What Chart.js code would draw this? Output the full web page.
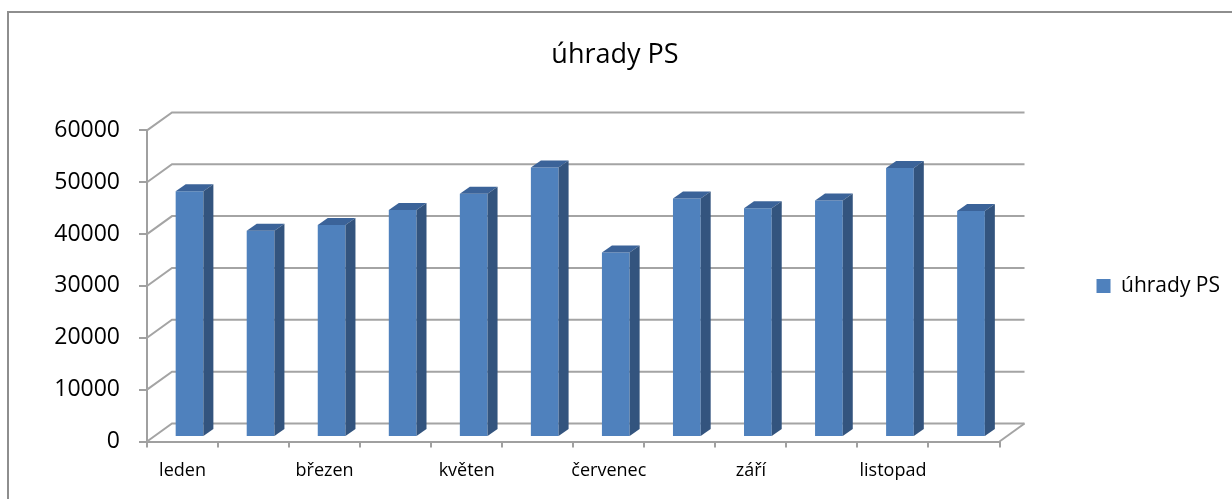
<!DOCTYPE html>
<html>
<head>
<meta charset="utf-8">
<script src="https://cdn.jsdelivr.net/npm/chart.js"></script>
<style>
  body { margin: 0; background: #fff; }
  canvas { display: block; }
</style>
</head>
<body>
<canvas id="chart" width="1232" height="499"></canvas>
<script>
const months = ['leden', 'únor', 'březen', 'duben', 'květen', 'červen',
                'červenec', 'srpen', 'září', 'říjen', 'listopad', 'prosinec'];
const payments = [47400, 39800, 40900, 43800, 46900, 52000,
                  35600, 46000, 44100, 45600, 51900, 43600];
const yTicks = [0, 10000, 20000, 30000, 40000, 50000, 60000];

// depth of the "3D" box and of each bar
const wallDx = 25, wallDy = -18;
const barShiftX = 7, barShiftY = -4.5;
const barDx = 10, barDy = -7;

const pseudo3d = {
    id: 'pseudo3d',
    beforeDraw(chart) {
        const ctx = chart.ctx;
        ctx.save();
        ctx.strokeStyle = '#8e8e8e';
        ctx.lineWidth = 2;
        ctx.strokeRect(8, 12, 1400, 700);
        ctx.restore();
    },
    beforeDatasetsDraw(chart) {
        const ctx = chart.ctx;
        const {left, right, bottom} = chart.chartArea;
        const y = chart.scales.y;
        ctx.save();
        ctx.strokeStyle = '#a4a4a4';
        ctx.lineWidth = 2;
        yTicks.forEach(v => {
            const py = y.getPixelForValue(v);
            ctx.beginPath();
            ctx.moveTo(left, py);
            ctx.lineTo(left + wallDx, py + wallDy);
            ctx.lineTo(right + wallDx, py + wallDy);
            ctx.stroke();
        });
        ctx.beginPath();
        ctx.moveTo(right, bottom);
        ctx.lineTo(right + wallDx, bottom + wallDy);
        ctx.stroke();
        ctx.restore();

        // bars sit a little behind the front plane
        ctx.save();
        ctx.translate(barShiftX, barShiftY);
    },
    afterDatasetsDraw(chart) {
        const ctx = chart.ctx;
        const meta = chart.getDatasetMeta(0);
        meta.data.forEach(bar => {
            const {x, y, base, width} = bar.getProps(['x', 'y', 'base', 'width'], true);
            const l = x - width / 2, r = x + width / 2;
            // top face
            ctx.fillStyle = '#3b6399';
            ctx.beginPath();
            ctx.moveTo(l, y);
            ctx.lineTo(l + barDx, y + barDy);
            ctx.lineTo(r + barDx, y + barDy);
            ctx.lineTo(r, y);
            ctx.closePath();
            ctx.fill();
            // side face
            ctx.fillStyle = '#33547e';
            ctx.beginPath();
            ctx.moveTo(r, y);
            ctx.lineTo(r + barDx, y + barDy);
            ctx.lineTo(r + barDx, base + barDy);
            ctx.lineTo(r, base);
            ctx.closePath();
            ctx.fill();
        });
        ctx.restore();
    }
};

new Chart(document.getElementById('chart'), {
    type: 'bar',
    data: {
        labels: months,
        datasets: [{
            label: 'úhrady PS',
            data: payments,
            backgroundColor: '#4f81bd',
            borderWidth: 0,
            barPercentage: 0.39,
            categoryPercentage: 1,
            clip: false
        }]
    },
    options: {
        responsive: false,
        animation: false,
        layout: { padding: { left: 0, right: 2, top: 0, bottom: 0 } },
        plugins: {
            title: {
                display: true,
                text: 'úhrady PS',
                color: '#000',
                font: { family: 'Open Sans', size: 27, weight: 'normal' },
                padding: { top: 39, bottom: 59 }
            },
            legend: {
                position: 'right',
                fullSize: false,
                labels: {
                    boxWidth: 14,
                    boxHeight: 14,
                    padding: 97,
                    color: '#000',
                    font: { family: 'Open Sans', size: 21 }
                }
            },
            tooltip: { enabled: false }
        },
        scales: {
            x: {
                afterFit: scale => { scale.height = 57.5; },
                grid: {
                    offset: true,
                    drawOnChartArea: false,
                    tickLength: 6,
                    color: '#a0a0a0',
                    lineWidth: 2
                },
                border: { color: '#a0a0a0', width: 2 },
                ticks: {
                    autoSkip: false,
                    maxRotation: 0,
                    padding: 13,
                    color: '#000',
                    font: { family: 'Open Sans', size: 18 },
                    callback: (v, i) => (i % 2 === 0 ? months[i] : '')
                }
            },
            y: {
                min: 0,
                max: 60000,
                afterFit: scale => { scale.width = 147; },
                afterBuildTicks: scale => { scale.ticks = yTicks.map(v => ({ value: v })); },
                grid: {
                    drawOnChartArea: false,
                    tickLength: 8,
                    color: '#a0a0a0',
                    lineWidth: 2
                },
                border: { color: '#a0a0a0', width: 2 },
                ticks: {
                    padding: 19,
                    color: '#000',
                    font: { family: 'Open Sans', size: 23 },
                    callback: v => String(v)
                }
            }
        }
    },
    plugins: [pseudo3d]
});
</script>
</body>
</html>
